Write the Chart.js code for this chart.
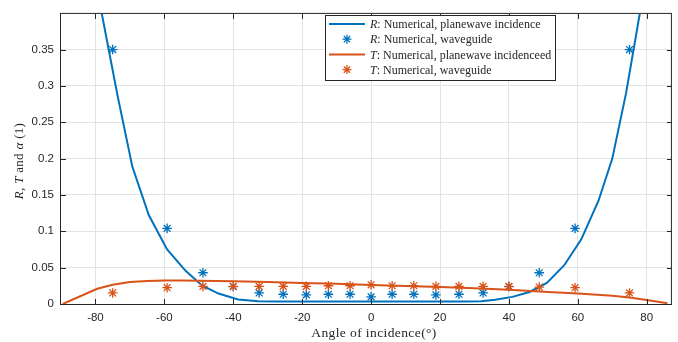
<!DOCTYPE html>
<html>
<head>
<meta charset="utf-8">
<script src="https://cdn.jsdelivr.net/npm/chart.js"></script>
<style>
  body { margin: 0; background: #fff; }
</style>
</head>
<body>
<canvas id="chart" width="678" height="342"></canvas>
<script>
// R, plane-wave incidence (line)
const rLineAngles = [-84, -79, -73.6, -69.3, -64.5, -59.2, -53.9, -49.1, -44.3, -38.6, -32.8, -27, -21, -15, -9, -3, 3, 9, 15, 21, 27, 32, 36, 41, 46, 51, 56, 61, 66, 70, 74, 78, 83];
const rLineValues = [0.7, 0.42, 0.287, 0.189, 0.122, 0.075, 0.046, 0.0255, 0.0144, 0.0063, 0.0038, 0.0035, 0.0035, 0.0035, 0.0035, 0.0035, 0.0035, 0.0035, 0.0035, 0.0035, 0.0035, 0.0038, 0.0058, 0.0098, 0.0165, 0.029, 0.053, 0.089, 0.142, 0.2, 0.29, 0.4, 0.7];

// T, plane-wave incidence (line)
const tLineAngles = [-89.5, -79.5, -75, -70, -65, -60, -55, -50, -45, -40, -30, -20, -10, 0, 10, 20, 30, 40, 50, 60, 70, 75, 80, 86];
const tLineValues = [0, 0.021, 0.0265, 0.0302, 0.0318, 0.0323, 0.0323, 0.032, 0.0318, 0.0313, 0.0303, 0.029, 0.0277, 0.0262, 0.0248, 0.0233, 0.0215, 0.0197, 0.017, 0.0143, 0.0115, 0.0088, 0.0055, 0.001];

// waveguide results (stars)
const starAngles = [-75, -59.2, -48.8, -40, -32.5, -25.5, -18.8, -12.4, -6.1, 0, 6.1, 12.4, 18.8, 25.5, 32.5, 40, 48.8, 59.2, 75];
const rStarValues = [0.35, 0.104, 0.043, 0.024, 0.0152, 0.0134, 0.0125, 0.0134, 0.0134, 0.0098, 0.0134, 0.0134, 0.0125, 0.0134, 0.0152, 0.024, 0.043, 0.104, 0.35];
const tStarValues = [0.0152, 0.0224, 0.0242, 0.0242, 0.0242, 0.0242, 0.0242, 0.0251, 0.0251, 0.0264, 0.0251, 0.0251, 0.0242, 0.0242, 0.0242, 0.0242, 0.0233, 0.0224, 0.0152];

const xTicks = [-80, -60, -40, -20, 0, 20, 40, 60, 80];
const yTicks = [0, 0.05, 0.1, 0.15, 0.2, 0.25, 0.3, 0.35];

const blue = "#0072BD";
const orange = "#D95319";
const axisColor = "#262626";
const serif = "'Liberation Serif', 'Times New Roman', serif";
const sans = "'Liberation Sans', Arial, sans-serif";

const toPoints = (xs, ys) => xs.map((x, i) => ({ x: x, y: ys[i] }));

function drawStar(ctx, x, y, r, color) {
  ctx.save();
  ctx.strokeStyle = color;
  ctx.lineWidth = 1.3;
  ctx.beginPath();
  for (let k = 0; k < 4; k++) {
    const a = k * Math.PI / 4;
    ctx.moveTo(x - r * Math.cos(a), y - r * Math.sin(a));
    ctx.lineTo(x + r * Math.cos(a), y + r * Math.sin(a));
  }
  ctx.stroke();
  ctx.restore();
}

// text made of [string, italic] pieces
function drawPieces(ctx, pieces, x, y, size) {
  let cx = x;
  pieces.forEach(([txt, it]) => {
    ctx.font = (it ? "italic " : "") + size + "px " + serif;
    ctx.fillText(txt, cx, y);
    cx += ctx.measureText(txt).width;
  });
  return cx - x;
}
function measurePieces(ctx, pieces, size) {
  let w = 0;
  pieces.forEach(([txt, it]) => {
    ctx.font = (it ? "italic " : "") + size + "px " + serif;
    w += ctx.measureText(txt).width;
  });
  return w;
}

const legendRows = [
  { type: "line", color: blue, pieces: [["R", true], [": Numerical, planewave incidence", false]] },
  { type: "star", color: blue, pieces: [["R", true], [": Numerical, waveguide", false]] },
  { type: "line", color: orange, pieces: [["T", true], [": Numerical, planewave incidenceed", false]] },
  { type: "star", color: orange, pieces: [["T", true], [": Numerical, waveguide", false]] },
];

const decor = {
  id: "decor",
  afterDatasetsDraw(chart) {
    const { ctx, chartArea: a, scales: { x, y } } = chart;
    ctx.save();
    // box
    ctx.strokeStyle = axisColor;
    ctx.lineWidth = 1;
    ctx.strokeRect(a.left - 0.5, a.top - 0.5, a.right - a.left, a.bottom - a.top + 1);
    // inner ticks
    ctx.beginPath();
    xTicks.forEach(v => {
      const px = Math.round(x.getPixelForValue(v)) + 0.5;
      ctx.moveTo(px, a.bottom); ctx.lineTo(px, a.bottom - 5);
      ctx.moveTo(px, a.top); ctx.lineTo(px, a.top + 5);
    });
    yTicks.forEach(v => {
      const py = Math.round(y.getPixelForValue(v)) + 0.5;
      ctx.moveTo(a.left, py); ctx.lineTo(a.left + 5, py);
      ctx.moveTo(a.right, py); ctx.lineTo(a.right - 5, py);
    });
    ctx.stroke();

    // legend
    const lx = 325, ly = 15, lw = 230, lh = 65;
    ctx.fillStyle = "#fff";
    ctx.fillRect(lx, ly, lw, lh);
    ctx.strokeStyle = axisColor;
    ctx.strokeRect(lx + 0.5, ly + 0.5, lw, lh);
    ctx.textBaseline = "middle";
    ctx.textAlign = "left";
    legendRows.forEach((row, i) => {
      const ry = 24 + i * 15.2;
      if (row.type === "line") {
        ctx.strokeStyle = row.color;
        ctx.lineWidth = 2;
        ctx.beginPath();
        ctx.moveTo(329, ry); ctx.lineTo(365, ry);
        ctx.stroke();
      } else {
        drawStar(ctx, 347, ry, 4.5, row.color);
      }
      ctx.fillStyle = axisColor;
      drawPieces(ctx, row.pieces, 370, ry + 1, 12);
    });

    // axis titles
    ctx.fillStyle = axisColor;
    ctx.textBaseline = "middle";
    ctx.letterSpacing = "0.4px";
    ctx.font = "13.5px " + serif;
    ctx.textAlign = "center";
    ctx.fillText("Angle of incidence(°)", 374, 333);

    const yPieces = [["R", true], [", ", false], ["T", true], [" and ", false], ["α", true], [" (1)", false]];
    ctx.textAlign = "left";
    ctx.letterSpacing = "0.3px";
    const w = measurePieces(ctx, yPieces, 13);
    ctx.translate(20, 161);
    ctx.rotate(-Math.PI / 2);
    drawPieces(ctx, yPieces, -w / 2, 0, 13);
    ctx.restore();
  }
};

new Chart(document.getElementById("chart"), {
  type: "scatter",
  data: {
    datasets: [
      {
        type: "line",
        data: toPoints(rLineAngles, rLineValues),
        borderColor: blue,
        borderWidth: 2,
        pointRadius: 0,
        tension: 0,
        clip: 0,
        order: 4,
      },
      {
        data: toPoints(starAngles, rStarValues),
        pointStyle: "star",
        pointRadius: 4.8,
        borderColor: blue,
        backgroundColor: blue,
        pointBorderWidth: 1.3,
        order: 3,
      },
      {
        type: "line",
        data: toPoints(tLineAngles, tLineValues),
        borderColor: orange,
        borderWidth: 2,
        pointRadius: 0,
        tension: 0,
        clip: 0,
        order: 2,
      },
      {
        data: toPoints(starAngles, tStarValues),
        pointStyle: "star",
        pointRadius: 4.8,
        borderColor: orange,
        backgroundColor: orange,
        pointBorderWidth: 1.3,
        order: 1,
      },
    ],
  },
  options: {
    responsive: false,
    animation: false,
    layout: { padding: { top: 7, right: 1, left: 0, bottom: 0 } },
    plugins: { legend: { display: false }, tooltip: { enabled: false } },
    scales: {
      x: {
        type: "linear",
        min: -90,
        max: 87.3,
        afterBuildTicks: (s) => { s.ticks = xTicks.map(v => ({ value: v })); },
        afterFit: (s) => { s.height = 38; },
        grid: { color: "#e3e3e3", drawTicks: false },
        border: { display: false },
        ticks: {
          padding: 7,
          maxRotation: 0,
          color: axisColor,
          font: { family: sans, size: 11.5 },
        },
      },
      y: {
        type: "linear",
        min: 0,
        max: 0.399,
        afterBuildTicks: (s) => { s.ticks = yTicks.map(v => ({ value: v })); },
        afterFit: (s) => { s.width = 61; },
        grid: { color: "#e3e3e3", drawTicks: false },
        border: { display: false },
        ticks: {
          padding: 7,
          color: axisColor,
          font: { family: sans, size: 11.5 },
          callback: (v) => String(v),
        },
      },
    },
  },
  plugins: [decor],
});
</script>
</body>
</html>
